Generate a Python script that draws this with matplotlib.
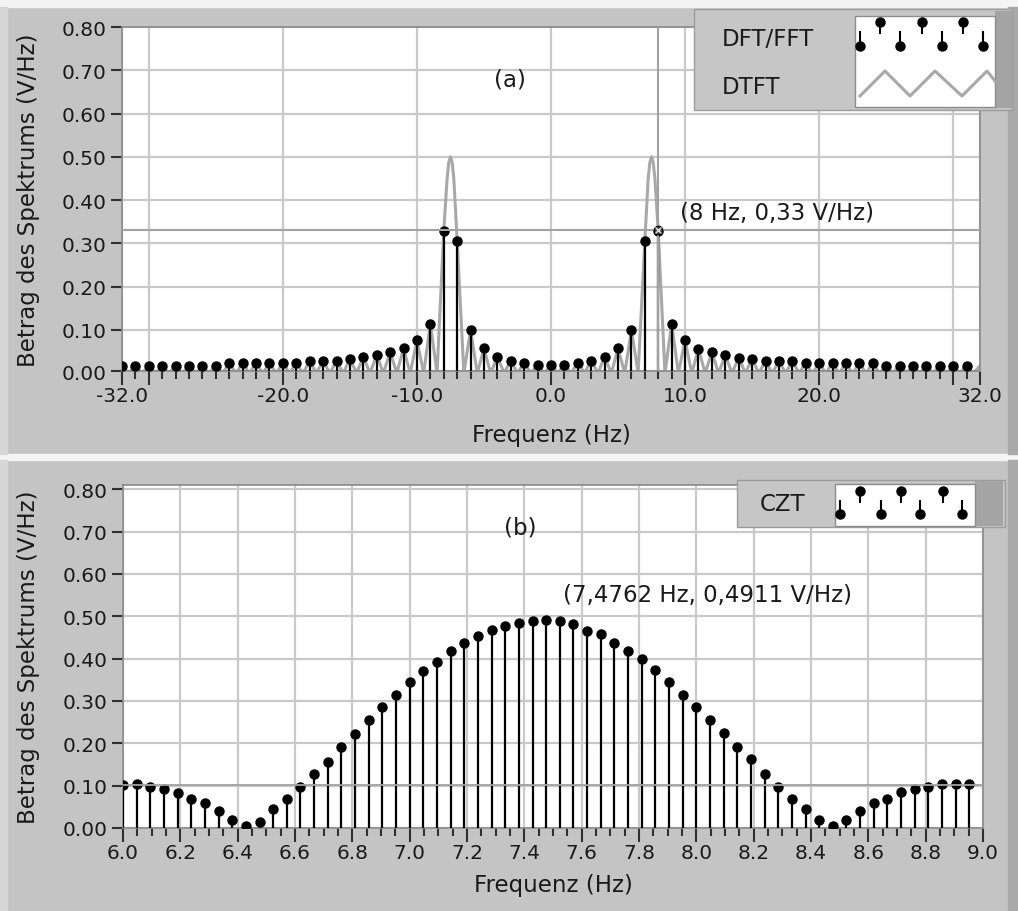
import numpy as np
import matplotlib.pyplot as plt
from matplotlib.patches import Rectangle
from matplotlib.ticker import FixedLocator, MultipleLocator

plt.rcParams['font.family'] = ['DejaVu Sans']

W, H = 1018, 912

# ---- panel (a): DFT/FFT samples at integer Hz, DTFT (gray)
dft_freq = np.arange(-32, 32)
dft_mag = [0.017, 0.017, 0.017, 0.017, 0.017, 0.017, 0.017, 0.017,
           0.023, 0.023, 0.023, 0.023, 0.023, 0.023, 0.028, 0.028,
           0.028, 0.033, 0.038, 0.042, 0.049, 0.057, 0.076, 0.114,
           0.328, 0.306, 0.100, 0.057, 0.038, 0.029, 0.024, 0.019,
           0.019, 0.019, 0.024, 0.029, 0.038, 0.057, 0.100, 0.306,
           0.328, 0.114, 0.076, 0.056, 0.049, 0.042, 0.036, 0.033,
           0.028, 0.028, 0.028, 0.023, 0.023, 0.023, 0.023, 0.023,
           0.023, 0.017, 0.017, 0.017, 0.017, 0.017, 0.017, 0.017]
dtft_end_mag = 0.017      # DTFT value at +32 Hz
dtft_null_mag = 0.0       # DTFT nulls between the samples
mainlobe_freq = [-7.75, -7.625, -7.5, -7.375, -7.25,
                 7.25, 7.375, 7.5, 7.625, 7.75]
mainlobe_mag = [0.45, 0.487, 0.50, 0.487, 0.45,
                0.45, 0.487, 0.50, 0.487, 0.45]
cursor_a = (8.0, 0.33)

# ---- panel (b): chirp-z transform 6..9 Hz
czt_freq = 6.0 + np.arange(63) / 21.0
czt_mag = [0.102, 0.104, 0.098, 0.092, 0.083, 0.068, 0.060, 0.040, 0.019,
           0.005, 0.015, 0.044, 0.068, 0.098, 0.128, 0.156, 0.192, 0.221,
           0.255, 0.285, 0.315, 0.345, 0.370, 0.393, 0.418, 0.437, 0.453,
           0.467, 0.478, 0.485, 0.490, 0.4911, 0.488, 0.482, 0.466, 0.4575,
           0.437, 0.418, 0.398, 0.374, 0.345, 0.315, 0.286, 0.256, 0.225,
           0.192, 0.162, 0.128, 0.098, 0.068, 0.044, 0.019, 0.005, 0.019,
           0.039, 0.060, 0.068, 0.084, 0.092, 0.098, 0.104, 0.104, 0.104]
cursor_b = (7.4762, 0.4911)
cursor_b_level = 0.102

# build the gray DTFT trace from the read peaks / nulls / main lobes
null_freq = np.arange(-31.5, 32, 1.0)
null_freq = null_freq[np.abs(np.abs(null_freq) - 7.5) > 0.1]
g_f = np.concatenate([dft_freq, [32], null_freq, mainlobe_freq])
g_m = np.concatenate([dft_mag, [dtft_end_mag],
                      np.full(len(null_freq), dtft_null_mag), mainlobe_mag])
order = np.argsort(g_f)
dtft_freq, dtft_mag = g_f[order], g_m[order]

GRID = '#c9c9c9'
GRAY = '#a8a8a8'
TXT = '#1a1a1a'

fig = plt.figure(figsize=(W / 100, H / 100), dpi=100, facecolor='#c4c4c4')

bg = fig.add_axes([0, 0, 1, 1], zorder=0)
bg.set_xlim(0, W)
bg.set_ylim(H, 0)
bg.axis('off')
bg.add_patch(Rectangle((0, 0), W, 8, color='#f4f4f4'))
bg.add_patch(Rectangle((0, 455), W, 6, color='#f4f4f4'))
bg.add_patch(Rectangle((0, 8), 7, 447, color='#d6d6d6'))
bg.add_patch(Rectangle((0, 461), 7, 451, color='#d6d6d6'))
bg.add_patch(Rectangle((1008, 8), 10, 447, color='#a9a9a9'))
bg.add_patch(Rectangle((1008, 461), 10, 451, color='#a9a9a9'))


def px_axes(l, t, r, b):
    return fig.add_axes([l / W, 1 - b / H, (r - l) / W, (b - t) / H], zorder=1)


def style(ax, xpad, left_px):
    ax.set_facecolor('white')
    ax.grid(True, which='major', color=GRID, lw=1.6)
    ax.set_axisbelow(True)
    for s in ax.spines.values():
        s.set_color('#8a8a8a')
        s.set_linewidth(1.2)
    ax.tick_params(axis='both', which='both', direction='out', colors='#303030',
                   labelcolor=TXT, labelsize=14.5, width=1.5)
    ax.tick_params(axis='y', length=8, pad=3)
    ax.tick_params(axis='x', which='major', length=10, pad=1)
    ax.tick_params(axis='x', which='minor', length=6)
    ax.set_xlabel('Frequenz (Hz)', fontsize=16.5, color=TXT, labelpad=xpad)
    ax.set_ylabel('Betrag des Spektrums (V/Hz)', fontsize=16.5, color=TXT)
    ax.yaxis.set_label_coords((40 - left_px) / 858, 0.5)


# ---------------- panel (a)
axA = px_axes(122, 28, 980, 372)
style(axA, 13, 122)
ymin_a = 0.005
axA.set_xlim(-32, 32)
axA.set_ylim(ymin_a, 0.8)
xt = [-32, -30, -20, -10, 0, 10, 20, 30, 32]
axA.xaxis.set_major_locator(FixedLocator(xt))
axA.set_xticklabels(['-32.0', '', '-20.0', '-10.0', '0.0', '10.0', '20.0', '', '32.0'])
axA.xaxis.set_minor_locator(MultipleLocator(1))
yt = [ymin_a] + [round(0.1 * i, 1) for i in range(1, 9)]
axA.yaxis.set_major_locator(FixedLocator(yt))
axA.set_yticklabels(['%.2f' % round(v, 2) if v > 0.05 else '0.00' for v in yt])

axA.plot(dtft_freq, dtft_mag, color=GRAY, lw=2.2, zorder=2)
axA.vlines(dft_freq, 0, dft_mag, color='black', lw=1.6, zorder=3)
axA.plot(dft_freq, dft_mag, 'o', color='black', ms=6.5, zorder=4)
axA.axhline(cursor_a[1], color='#a2a2a2', lw=1.5, zorder=5)
axA.axvline(cursor_a[0], color='#a2a2a2', lw=1.5, zorder=5)
axA.plot(*cursor_a, 'o', ms=6, mfc='#505050', mec='black', zorder=6)
axA.plot(*cursor_a, 'x', ms=4, mec='#e0e0e0', mew=1, zorder=7)
axA.text(cursor_a[0] + 1.6, cursor_a[1] + 0.042, '(8 Hz, 0,33 V/Hz)',
         fontsize=16.5, color=TXT, va='center', ha='left', zorder=8)
axA.text(-3.07, 0.68, '(a)', fontsize=16.5, color=TXT, ha='center', va='center')

# ---------------- panel (b)
axB = px_axes(123, 486, 983, 829)
style(axB, 8, 123)
axB.set_xlim(6.0, 9.0)
axB.set_ylim(0, 0.81)
axB.xaxis.set_major_locator(MultipleLocator(0.2))
axB.xaxis.set_minor_locator(MultipleLocator(0.05))
axB.xaxis.set_major_formatter(plt.FormatStrFormatter('%.1f'))
axB.yaxis.set_major_locator(FixedLocator([round(0.1 * i, 1) for i in range(9)]))
axB.yaxis.set_major_formatter(plt.FormatStrFormatter('%.2f'))

axB.vlines(czt_freq, 0, czt_mag, color='black', lw=1.6, zorder=3)
axB.plot(czt_freq, czt_mag, 'o', color='black', ms=6.5, zorder=4, clip_on=True)
axB.axhline(cursor_b_level, color='#a2a2a2', lw=1.3, zorder=5)
axB.text(cursor_b[0] + 0.058, cursor_b[1] + 0.06, '(7,4762 Hz, 0,4911 V/Hz)',
         fontsize=16.5, color=TXT, va='center', ha='left', zorder=8)
axB.text(7.385, 0.711, '(b)', fontsize=16.5, color=TXT, ha='center', va='center')

# ---------------- legends (drawn in pixel space)
ov = fig.add_axes([0, 0, 1, 1], zorder=3)
ov.set_xlim(0, W)
ov.set_ylim(H, 0)
ov.axis('off')
ov.patch.set_alpha(0)

ov.add_patch(Rectangle((694, 10), 318, 101, fc='#c6c6c6', ec='#9c9c9c', lw=1))
ov.add_patch(Rectangle((995, 12), 17, 97, fc='#a4a4a4', ec='none'))
ov.add_patch(Rectangle((855, 17), 140, 91, fc='white', ec='#8c8c8c', lw=1))
ov.text(722, 40, 'DFT/FFT', fontsize=16.5, color=TXT, va='center', ha='left')
ov.text(722, 88, 'DTFT', fontsize=16.5, color=TXT, va='center', ha='left')
lo_x = [860, 900, 942, 983]
hi_x = [880, 922, 963]
for x in lo_x:
    ov.plot([x, x], [33, 46], color='black', lw=1.5)
    ov.plot(x, 46.5, 'o', color='black', ms=6.5)
for x in hi_x:
    ov.plot([x, x], [23, 34], color='black', lw=1.5)
    ov.plot(x, 22.5, 'o', color='black', ms=6.5)
ov.plot([860, 885, 910, 935, 962, 987, 995], [97, 72, 97, 72, 97, 72, 82],
        color=GRAY, lw=2.2)

ov.add_patch(Rectangle((737, 481), 268, 47, fc='#c6c6c6', ec='#9c9c9c', lw=1))
ov.add_patch(Rectangle((975, 482), 28, 45, fc='#a4a4a4', ec='none'))
ov.add_patch(Rectangle((835, 485), 140, 42, fc='white', ec='#8c8c8c', lw=1))
ov.text(760, 505, 'CZT', fontsize=16.5, color=TXT, va='center', ha='left')
for x in [840, 881, 920, 962]:
    ov.plot([x, x], [502, 514], color='black', lw=1.5)
    ov.plot(x, 515, 'o', color='black', ms=6.5)
for x in [860, 901, 943]:
    ov.plot([x, x], [492, 503], color='black', lw=1.5)
    ov.plot(x, 491.5, 'o', color='black', ms=6.5)

fig.savefig('out.png', dpi=100, facecolor=fig.get_facecolor())
